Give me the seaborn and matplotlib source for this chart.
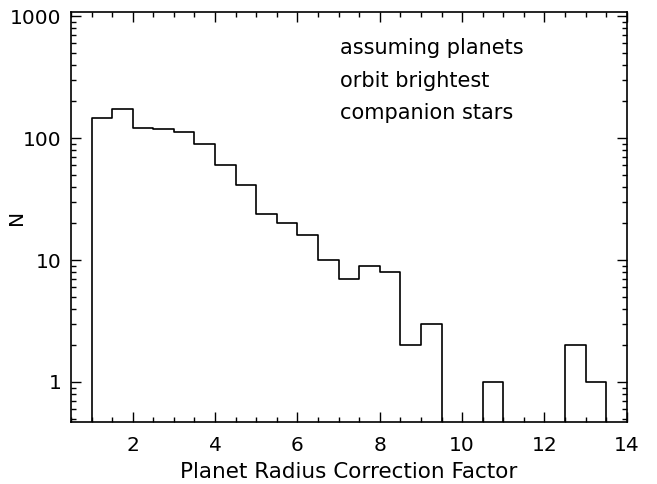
import numpy as np
import pandas as pd
import matplotlib
matplotlib.use("Agg")
import matplotlib.pyplot as plt
import seaborn as sns
from matplotlib.ticker import MultipleLocator, FixedLocator, LogLocator, NullFormatter

# bin lower edges (width 0.5) and counts
bin_left = [1.0, 1.5, 2.0, 2.5, 3.0, 3.5, 4.0, 4.5, 5.0, 5.5, 6.0, 6.5, 7.0,
            7.5, 8.0, 8.5, 9.0, 9.5, 10.0, 10.5, 11.0, 11.5, 12.0, 12.5, 13.0]
counts = [146, 173, 121, 119, 112, 90, 60, 41, 24, 20, 16, 10, 7,
          9, 8, 2, 3, 0, 0, 1, 0, 0, 0, 2, 1]
bin_width = 0.5

df = pd.DataFrame({"factor": np.array(bin_left) + bin_width / 2, "n": counts})

sns.set_style("ticks")
plt.rcParams["font.family"] = ["DejaVu Sans"]
plt.rcParams["text.color"] = "black"
plt.rcParams["axes.labelcolor"] = "black"

fig = plt.figure(figsize=(6.57, 4.84), dpi=100)
ax = fig.add_axes([0.108, 0.128, 0.846, 0.847])

# pad the bin range by one bin each side so the outline closes at the ends
sns.histplot(
    data=df,
    x="factor",
    weights="n",
    binwidth=bin_width,
    binrange=(0.5, 14.0),
    element="step",
    fill=False,
    color="black",
    linewidth=1.2,
    ax=ax
)

ax.set_yscale("log")
ax.set_xlim(0.5, 14)
ax.set_ylim(0.469, 1080)

ax.xaxis.set_major_locator(FixedLocator([2, 4, 6, 8, 10, 12, 14]))
ax.xaxis.set_minor_locator(MultipleLocator(0.5))
ax.yaxis.set_major_locator(FixedLocator([1, 10, 100, 1000]))
ax.yaxis.set_major_formatter(matplotlib.ticker.FixedFormatter(["1", "10", "100", "1000"]))
ax.yaxis.set_minor_locator(LogLocator(base=10, subs=np.arange(2, 10)))
ax.yaxis.set_minor_formatter(NullFormatter())

ax.tick_params(which="both", direction="in", top=True, right=True,
               colors="black", labelsize=14.5, width=1)
ax.tick_params(which="major", length=7, pad=7)
ax.tick_params(axis="x", which="major", pad=10)
ax.tick_params(which="minor", length=3.5)
for s in ax.spines.values():
    s.set_linewidth(1.2)
    s.set_color("black")

ax.set_xlabel("Planet Radius Correction Factor", fontsize=15.5)
ax.set_ylabel("N", fontsize=14.5)
ax.xaxis.set_label_coords(0.5, -0.097)
ax.yaxis.set_label_coords(-0.081, 0.5)

note = ["assuming planets", "orbit brightest", "companion stars"]
for i, line in enumerate(note):
    ax.text(0.484, 0.912 - i * 0.079, line, transform=ax.transAxes,
            ha="left", va="center", fontsize=15)

fig.savefig("out.png", dpi=100)
